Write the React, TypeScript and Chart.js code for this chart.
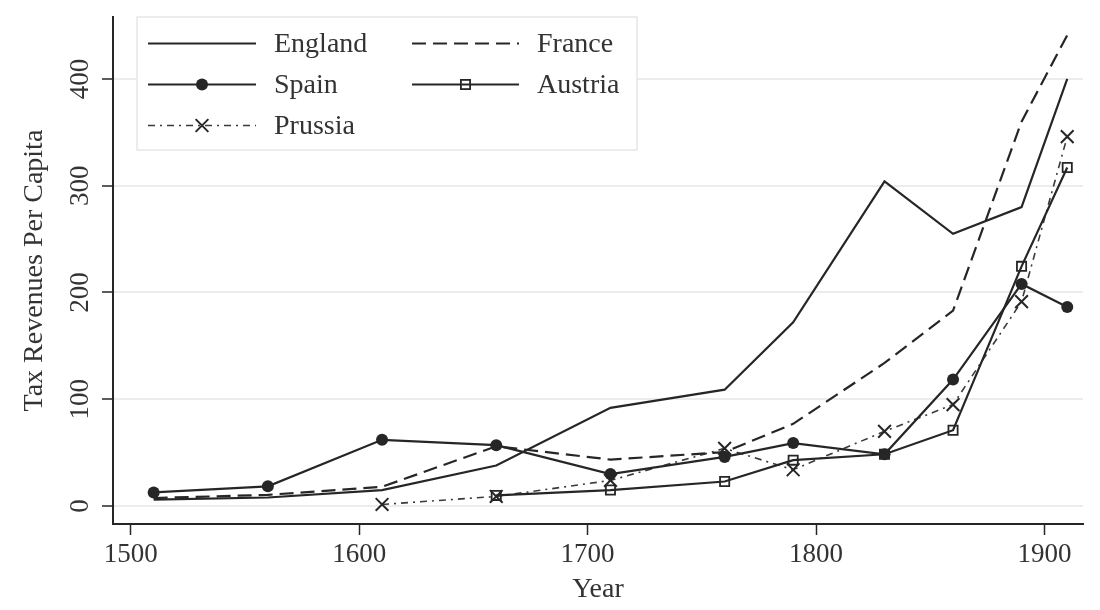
import React, { useEffect, useRef } from 'react';
import { Chart, registerables } from 'chart.js';

Chart.register(...registerables);

const years = [1510, 1560, 1610, 1660, 1710, 1760, 1790, 1830, 1860, 1890, 1910];
const england = [6, 8, 15, 38, 92, 109, 172, 304, 255, 280, 400];
const france = [7.5, 10.5, 18, 56, 43.5, 50.5, 77, 134, 183, 360, 441];
const spain = [12.8, 18.5, 62, 57, 30, 46, 59, 48.5, 118.5, 208, 186.5];
const austria = [null, null, null, 10, 15, 23, 43, 48.5, 71, 224.5, 317];
const prussia = [null, null, 1.5, 9, 24, 54, 34, 70, 95, 191.5, 346];

const seriesNames = ['England', 'France', 'Spain', 'Austria', 'Prussia'];
const xTicks = [1500, 1600, 1700, 1800, 1900];
const yTicks = [0, 100, 200, 300, 400];
const xTitle = 'Year';
const yTitle = 'Tax Revenues Per Capita';

const FONT = '"Liberation Serif", "Times New Roman", serif';
const INK = '#262626';
const TEXT = '#333333';

const DOT_R = 6;
const SQ_R = 6.5;
const X_R = 9;

function pts(vals: (number | null)[]) {
  return years
    .map((x, i) => ({ x, y: vals[i] }))
    .filter((p) => p.y !== null) as { x: number; y: number }[];
}

function drawMarker(ctx: CanvasRenderingContext2D, style: string, x: number, y: number) {
  ctx.save();
  ctx.setLineDash([]);
  ctx.strokeStyle = INK;
  ctx.fillStyle = INK;
  if (style === 'circle') {
    ctx.beginPath();
    ctx.arc(x, y, DOT_R, 0, Math.PI * 2);
    ctx.fill();
  } else if (style === 'rect') {
    const s = SQ_R * Math.SQRT1_2;
    ctx.lineWidth = 1.8;
    ctx.strokeRect(x - s, y - s, 2 * s, 2 * s);
  } else if (style === 'crossRot') {
    const o = X_R * Math.SQRT1_2;
    ctx.lineWidth = 2;
    ctx.beginPath();
    ctx.moveTo(x - o, y - o);
    ctx.lineTo(x + o, y + o);
    ctx.moveTo(x - o, y + o);
    ctx.lineTo(x + o, y - o);
    ctx.stroke();
  }
  ctx.restore();
}

const legendPlugin = {
  id: 'customLegend',
  afterDraw(chart: any) {
    const ctx: CanvasRenderingContext2D = chart.ctx;
    const box = { x: 137, y: 17, w: 500, h: 133 };
    ctx.save();
    ctx.fillStyle = '#ffffff';
    ctx.fillRect(box.x, box.y, box.w, box.h);
    ctx.strokeStyle = '#e6e6e6';
    ctx.lineWidth = 1.5;
    ctx.strokeRect(box.x, box.y, box.w, box.h);
    const cols = [
      { x0: 148, x1: 256, tx: 274 },
      { x0: 412, x1: 519, tx: 537 },
    ];
    const rows = [43.5, 84.5, 125.5];
    chart.data.datasets.forEach((ds: any, i: number) => {
      const c = cols[i % 2];
      const y = rows[Math.floor(i / 2)];
      ctx.save();
      ctx.strokeStyle = ds.borderColor;
      ctx.lineWidth = ds.borderWidth;
      ctx.setLineDash(ds.borderDash || []);
      ctx.beginPath();
      ctx.moveTo(c.x0, y);
      ctx.lineTo(c.x1, y);
      ctx.stroke();
      ctx.restore();
      if (ds.pointRadius > 0) drawMarker(ctx, ds.pointStyle, (c.x0 + c.x1) / 2, y);
      ctx.fillStyle = TEXT;
      ctx.font = `28px ${FONT}`;
      ctx.textBaseline = 'middle';
      ctx.textAlign = 'left';
      ctx.fillText(ds.label, c.tx, y + 1);
    });
    ctx.restore();
  },
};

export default function App() {
  const ref = useRef<HTMLCanvasElement | null>(null);

  useEffect(() => {
    if (!ref.current) return;
    const chart = new Chart(ref.current, {
      type: 'line',
      data: {
        datasets: [
          {
            label: seriesNames[0],
            data: pts(england),
            borderColor: INK,
            borderWidth: 2.2,
            pointRadius: 0,
            borderDash: [],
          },
          {
            label: seriesNames[1],
            data: pts(france),
            borderColor: INK,
            borderWidth: 2.2,
            pointRadius: 0,
            borderDash: [14, 7],
          },
          {
            label: seriesNames[2],
            data: pts(spain),
            borderColor: INK,
            borderWidth: 2.2,
            pointStyle: 'circle',
            pointRadius: DOT_R,
            pointBackgroundColor: INK,
            pointBorderColor: INK,
            pointBorderWidth: 0,
            borderDash: [],
          },
          {
            label: seriesNames[3],
            data: pts(austria),
            borderColor: INK,
            borderWidth: 2.2,
            pointStyle: 'rect',
            pointRadius: SQ_R,
            pointBackgroundColor: 'rgba(255,255,255,0)',
            pointBorderColor: INK,
            pointBorderWidth: 1.8,
            borderDash: [],
          },
          {
            label: seriesNames[4],
            data: pts(prussia),
            borderColor: '#3a3a3a',
            borderWidth: 1.6,
            pointStyle: 'crossRot',
            pointRadius: X_R,
            pointBorderColor: INK,
            pointBorderWidth: 2,
            borderDash: [7, 5, 2, 5],
          },
        ],
      },
      options: {
        responsive: false,
        animation: false,
        layout: { padding: { top: 15, right: 17, left: 0, bottom: 0 } },
        plugins: { legend: { display: false }, tooltip: { enabled: false } },
        scales: {
          x: {
            type: 'linear',
            min: 1492.2,
            max: 1916.9,
            afterBuildTicks: (s: any) => {
              s.ticks = xTicks.map((v) => ({ value: v }));
            },
            afterFit: (s: any) => {
              s.height = 86;
            },
            grid: { drawOnChartArea: false, tickLength: 11, tickColor: INK, tickWidth: 1.5 },
            border: { color: INK, width: 2 },
            ticks: {
              font: { family: FONT, size: 27 },
              color: TEXT,
              padding: 4,
              maxRotation: 0,
              callback: (v: any) => String(v),
            },
            title: {
              display: true,
              text: xTitle,
              font: { family: FONT, size: 28 },
              color: TEXT,
              padding: { top: 0, bottom: 4 },
            },
          },
          y: {
            type: 'linear',
            min: -16.8,
            max: 457.8,
            afterBuildTicks: (s: any) => {
              s.ticks = yTicks.map((v) => ({ value: v }));
            },
            afterFit: (s: any) => {
              s.width = 113;
            },
            grid: { color: '#ececec', lineWidth: 2, tickLength: 11, tickColor: INK, tickWidth: 1.5 },
            border: { color: INK, width: 2 },
            ticks: {
              font: { family: FONT, size: 27 },
              color: TEXT,
              padding: 1,
              minRotation: 90,
              maxRotation: 90,
              crossAlign: 'center',
              callback: (v: any) => String(v),
            },
            title: {
              display: true,
              text: yTitle,
              font: { family: FONT, size: 28 },
              color: TEXT,
              padding: { top: 18, bottom: 0 },
            },
          },
        },
      },
      plugins: [legendPlugin],
    } as any);
    return () => chart.destroy();
  }, []);

  return (
    <div style={{ position: 'fixed', left: 0, top: 0, width: 1100, height: 610, background: '#fff' }}>
      <canvas ref={ref} width={1100} height={610} style={{ display: 'block' }} />
    </div>
  );
}
